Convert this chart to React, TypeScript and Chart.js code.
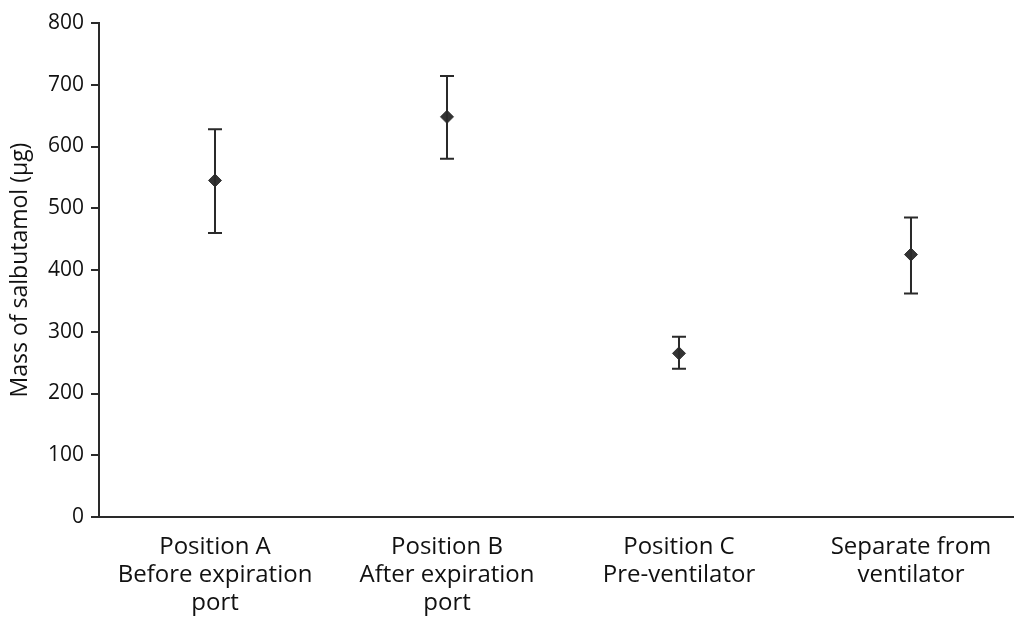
import React, { useEffect, useRef } from "react";
import { Chart, registerables } from "chart.js";

Chart.register(...registerables);

const categories: string[][] = [
  ["Position A", "Before expiration", "port"],
  ["Position B", "After expiration", "port"],
  ["Position C", "Pre-ventilator"],
  ["Separate from", "ventilator"],
];
const means: number[] = [545, 648, 265, 425];
const upper: number[] = [628, 714, 292, 485];
const lower: number[] = [460, 580, 240, 362];
const yTicks: number[] = [0, 100, 200, 300, 400, 500, 600, 700, 800];

const FONT = "'Open Sans', 'Noto Sans', sans-serif";
const INK = "#2a2a2a";

const errorBarPlugin = {
  id: "errorBars",
  afterDatasetsDraw(chart: any) {
    const { ctx, scales } = chart;
    const xs = scales.x;
    const ys = scales.y;
    ctx.save();
    ctx.strokeStyle = INK;
    ctx.lineWidth = 2;
    for (let i = 0; i < means.length; i++) {
      const x = xs.getPixelForValue(i);
      const yt = ys.getPixelForValue(upper[i]);
      const yb = ys.getPixelForValue(lower[i]);
      ctx.beginPath();
      ctx.moveTo(x, yt);
      ctx.lineTo(x, yb);
      ctx.moveTo(x - 7, yt);
      ctx.lineTo(x + 7, yt);
      ctx.moveTo(x - 7, yb);
      ctx.lineTo(x + 7, yb);
      ctx.stroke();
    }
    ctx.restore();
  },
};

export default function App() {
  const ref = useRef<HTMLCanvasElement | null>(null);
  useEffect(() => {
    if (!ref.current) return;
    const chart = new Chart(ref.current, {
      type: "scatter",
      data: {
        datasets: [
          {
            data: means.map((v, i) => ({ x: i, y: v })),
            pointStyle: "rectRot",
            radius: 6.5,
            backgroundColor: "#333333",
            borderColor: "#333333",
            borderWidth: 1,
          },
        ],
      },
      options: {
        animation: false,
        responsive: false,
        maintainAspectRatio: false,
        layout: { autoPadding: false, padding: { top: 23, left: 0, right: 0, bottom: 0 } },
        plugins: { legend: { display: false }, tooltip: { enabled: false } },
        scales: {
          x: {
            type: "linear",
            min: -0.5,
            max: 3.444,
            afterBuildTicks: (s: any) => {
              s.ticks = categories.map((_, i) => ({ value: i }));
            },
            afterFit: (s: any) => {
              s.height = 103;
              s.paddingLeft = 0;
              s.paddingRight = 0;
            },
            ticks: {
              autoSkip: false,
              maxRotation: 0,
              minRotation: 0,
              padding: 16,
              color: "#111",
              font: { family: FONT, size: 24, lineHeight: 1.17 },
              callback: (v: any) => categories[Math.round(Number(v))] ?? "",
            },
            grid: { display: true, drawOnChartArea: false, drawTicks: false },
            border: { display: true, color: INK, width: 2 },
          },
          y: {
            min: 0,
            max: 800,
            afterBuildTicks: (s: any) => {
              s.ticks = yTicks.map((v) => ({ value: v }));
            },
            afterFit: (s: any) => {
              s.width = 99;
            },
            ticks: {
              padding: 7,
              color: "#111",
              font: { family: FONT, size: 21 },
            },
            grid: {
              display: true,
              drawOnChartArea: false,
              drawTicks: true,
              tickLength: 8,
              color: INK,
              lineWidth: 2,
            },
            border: { display: true, color: INK, width: 2 },
            title: {
              display: true,
              text: "Mass of salbutamol (μg)",
              color: "#111",
              font: { family: FONT, size: 23 },
              padding: { top: 7, bottom: 0 },
            },
          },
        },
      },
      plugins: [errorBarPlugin],
    });
    return () => chart.destroy();
  }, []);
  return (
    <div style={{ position: "fixed", left: 0, top: 0, width: 1014, height: 620, background: "#fff" }}>
      <canvas ref={ref} width={1014} height={620} style={{ width: 1014, height: 620 }} />
    </div>
  );
}
